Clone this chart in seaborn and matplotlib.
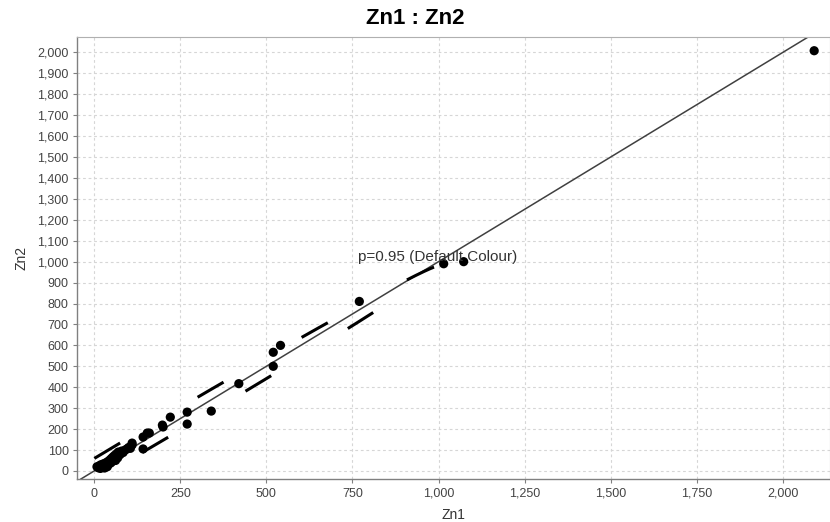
import numpy as np
import pandas as pd
import matplotlib
matplotlib.use("Agg")
import matplotlib.pyplot as plt
import seaborn as sns
from matplotlib import font_manager
from matplotlib.ticker import MultipleLocator, FuncFormatter

# ---------------- data ----------------
zn1 = [8, 12, 15, 18, 20, 22, 25, 28, 30, 33, 35, 38, 40, 42, 45, 48, 50, 52,
       55, 58, 60, 62, 65, 68, 70, 75, 80, 84, 90, 95, 100, 105, 110, 110,
       142, 142, 154, 160, 198, 200, 221, 270, 270, 340, 420, 520, 520, 541,
       770, 1015, 1073, 2091]
zn2 = [20, 15, 25, 12, 30, 18, 22, 35, 14, 28, 40, 20, 45, 32, 52, 38, 60, 45,
       68, 55, 75, 50, 82, 62, 90, 78, 95, 88, 100, 105, 112, 108, 124, 133,
       162, 105, 181, 181, 219, 210, 257, 281, 224, 286, 417, 500, 567, 600,
       810, 990, 1000, 2008]

x_ticks_step = 250
y_ticks_step = 100
x_limits = (-50, 2137)
y_limits = (-40, 2075)

# 95% ellipse (data units): centre, full major/minor axis lengths, angle (deg)
ellipse_center = (212.0, 212.6)
ellipse_major = 2200.0
ellipse_minor = 78.0
ellipse_angle = 44.17
ellipse_label = "p=0.95 (Default Colour)"
label_pos = (766, 1024)

title = "Zn1 : Zn2"

df = pd.DataFrame({"Zn1": zn1, "Zn2": zn2})

# ---------------- style ----------------
sns.set_theme(style="white")
names = {f.name for f in font_manager.fontManager.ttflist}
base = "Liberation Sans" if "Liberation Sans" in names else "DejaVu Sans"
narrow = "Liberation Sans Narrow" if "Liberation Sans Narrow" in names else base
plt.rcParams["font.family"] = [base, "DejaVu Sans"]
plt.rcParams["lines.scale_dashes"] = False

fig = plt.figure(figsize=(8.3, 5.22), dpi=100)
ax = fig.add_axes([77 / 830, 42.7 / 522, 753 / 830, 442.6 / 522])
ax.set_facecolor("white")

ax.set_xlim(*x_limits)
ax.set_ylim(*y_limits)
ax.xaxis.set_major_locator(MultipleLocator(x_ticks_step))
ax.yaxis.set_major_locator(MultipleLocator(y_ticks_step))
fmt = FuncFormatter(lambda v, p: f"{int(round(v)):,}")
ax.xaxis.set_major_formatter(fmt)
ax.yaxis.set_major_formatter(fmt)

ax.grid(True, color="#d6d6d6", linestyle=(0, (2, 2)), linewidth=0.8)
ax.set_axisbelow(True)

for s in ["top", "right"]:
    ax.spines[s].set_color("#b0b0b0")
    ax.spines[s].set_linewidth(0.8)
for s in ["left", "bottom"]:
    ax.spines[s].set_color("#808080")
    ax.spines[s].set_linewidth(1.0)

ax.tick_params(axis="both", which="major", direction="out", length=3, width=0.8,
               color="#808080", labelsize=9, labelcolor="#444444", pad=3,
               bottom=True, left=True)

# identity line
ax.axline((0, 0), slope=1, color="#404040", linewidth=1.1, zorder=2)

# points
sns.scatterplot(data=df, x="Zn1", y="Zn2", ax=ax, color="black", s=44,
                edgecolor="none", linewidth=0, zorder=3, legend=False)

# ellipse drawn as two halves starting at the right tip
cx, cy = ellipse_center
a = ellipse_major / 2
b = ellipse_minor / 2
th = np.deg2rad(ellipse_angle)
px_pt = 0.72
for tmax, off in [(np.pi, 115), (-np.pi, 39)]:
    t = np.linspace(0, tmax, 2000)
    ex = cx + a * np.cos(t) * np.cos(th) - b * np.sin(t) * np.sin(th)
    ey = cy + a * np.cos(t) * np.sin(th) + b * np.sin(t) * np.cos(th)
    ax.plot(ex, ey, color="black", linewidth=2.2,
            linestyle=(off * px_pt, (30 * px_pt, 90 * px_pt)),
            solid_capstyle="butt", dash_capstyle="butt", zorder=4)

ax.text(label_pos[0], label_pos[1], ellipse_label, fontsize=11,
        color="#333333", va="center", ha="left", zorder=5)

ax.set_xlabel("Zn1", fontsize=10, color="#333333", labelpad=6)
ax.set_ylabel("Zn2", fontsize=10, color="#333333", labelpad=6)

fig.text(0.5, 1 - 18 / 522, title, ha="center", va="center",
         fontsize=16, fontweight="bold", family=[narrow, "DejaVu Sans"],
         color="black")

fig.savefig("out.png", dpi=100)
